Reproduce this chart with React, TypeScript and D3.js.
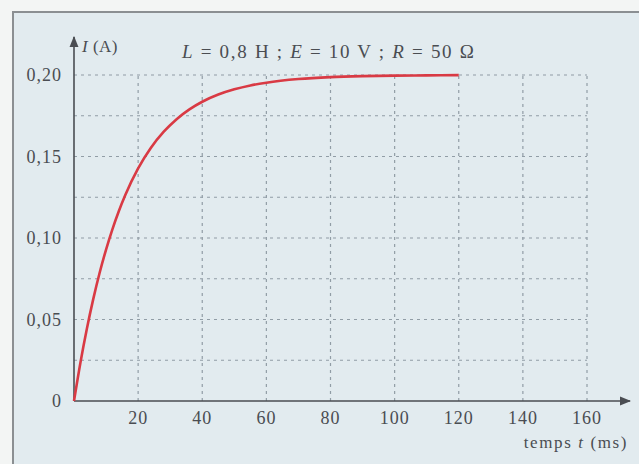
import React, { useEffect, useRef } from 'react';
import * as d3 from 'd3';

// (ms, A)
const times = [0, 2, 4, 6, 8, 10, 12, 14, 16, 20, 24, 28, 32, 36, 40, 45, 50, 55, 60, 70, 80, 90, 100, 110, 120];
const current = [0, 0.0235, 0.0442, 0.0625, 0.0787, 0.0929, 0.1055, 0.1166, 0.1264, 0.1427, 0.1554, 0.1652, 0.1729, 0.1789, 0.1836, 0.188, 0.1912, 0.1936, 0.1953, 0.1975, 0.1987, 0.1993, 0.1996, 0.1998, 0.1999];

const xTicks = [20, 40, 60, 80, 100, 120, 140, 160];
const yTicks = [0, 0.05, 0.1, 0.15, 0.2];
const yGrid = [0.025, 0.05, 0.075, 0.1, 0.125, 0.15, 0.175, 0.2];

const W = 639, H = 464;

const App = () => {
  const ref = useRef<SVGSVGElement>(null);

  useEffect(() => {
    const svg = d3.select(ref.current);
    svg.selectAll('*').remove();

    const x = d3.scaleLinear().domain([0, 160]).range([74, 587]);
    const y = d3.scaleLinear().domain([0, 0.2]).range([401, 75]);
    const font = '"Liberation Serif", "DejaVu Serif", serif';
    const ink = '#4a4d52';

    svg.append('rect').attr('width', W).attr('height', H).attr('fill', '#f3f5f4');
    svg.append('rect').attr('x', 13).attr('y', 12).attr('width', W).attr('height', H)
      .attr('fill', '#e2ebef').attr('stroke', '#8b8f92').attr('stroke-width', 2);

    const defs = svg.append('defs');
    defs.append('marker').attr('id', 'arr').attr('viewBox', '0 0 10 10')
      .attr('refX', 9).attr('refY', 5).attr('markerWidth', 7).attr('markerHeight', 7)
      .attr('orient', 'auto')
      .append('path').attr('d', 'M0,1 L10,5 L0,9 Z').attr('fill', ink);

    // grid
    const grid = svg.append('g').attr('stroke', '#84909a').attr('stroke-width', 1.2)
      .attr('stroke-dasharray', '3,4').attr('opacity', 0.85);
    grid.selectAll('line.h').data(yGrid).enter().append('line').attr('class', 'h')
      .attr('x1', x(0)).attr('x2', x(160)).attr('y1', d => y(d)).attr('y2', d => y(d));
    grid.selectAll('line.v').data(xTicks).enter().append('line').attr('class', 'v')
      .attr('y1', y(0)).attr('y2', y(0.2)).attr('x1', d => x(d)).attr('x2', d => x(d));

    // axes
    svg.append('line').attr('x1', x(0)).attr('x2', 630).attr('y1', y(0)).attr('y2', y(0))
      .attr('stroke', ink).attr('stroke-width', 1.6).attr('marker-end', 'url(#arr)');
    svg.append('line').attr('x1', x(0)).attr('x2', x(0)).attr('y1', y(0)).attr('y2', 37)
      .attr('stroke', ink).attr('stroke-width', 1.6).attr('marker-end', 'url(#arr)');

    const fmt = (v: number) => (v === 0 ? '0' : d3.format('.2f')(v).replace('.', ','));

    svg.append('g').selectAll('text').data(xTicks).enter().append('text')
      .attr('x', d => x(d)).attr('y', 424).attr('text-anchor', 'middle')
      .attr('font-family', font).attr('font-size', 18).attr('letter-spacing', 1)
      .attr('fill', ink).text(d => d);
    svg.append('g').selectAll('text').data(yTicks).enter().append('text')
      .attr('x', 62).attr('y', d => y(d) + 6).attr('text-anchor', 'end')
      .attr('font-family', font).attr('font-size', 18).attr('letter-spacing', 1)
      .attr('fill', ink).text(fmt);

    // curve
    const line = d3.line<number>().x((d, i) => x(times[i])).y(d => y(d)).curve(d3.curveMonotoneX);
    svg.append('path').datum(current).attr('d', line).attr('fill', 'none')
      .attr('stroke', '#d93a44').attr('stroke-width', 2.6);

    // labels
    const yl = svg.append('text').attr('x', 82).attr('y', 52).attr('font-family', font)
      .attr('font-size', 17).attr('letter-spacing', 0.5).attr('fill', ink);
    yl.append('tspan').attr('font-style', 'italic').text('I');
    yl.append('tspan').text(' (A)');

    const tt = svg.append('text').attr('x', 182).attr('y', 58).attr('font-family', font)
      .attr('font-size', 19).attr('letter-spacing', 1.7).attr('fill', ink);
    const parts: [string, boolean][] = [['L', true], [' = 0,8 H ; ', false], ['E', true], [' = 10 V ; ', false], ['R', true], [' = 50 Ω', false]];
    parts.forEach(([s, it]) => tt.append('tspan').attr('font-style', it ? 'italic' : 'normal').text(s));

    const xl = svg.append('text').attr('x', 628).attr('y', 448).attr('text-anchor', 'end')
      .attr('font-family', font).attr('font-size', 17).attr('letter-spacing', 1.6).attr('fill', ink);
    xl.append('tspan').text('temps ');
    xl.append('tspan').attr('font-style', 'italic').text('t');
    xl.append('tspan').text(' (ms)');
  }, []);

  return (
    <div style={{ position: 'absolute', left: 0, top: 0 }}>
      <svg ref={ref} width={W} height={H} style={{ display: 'block' }} />
    </div>
  );
};

export default App;
